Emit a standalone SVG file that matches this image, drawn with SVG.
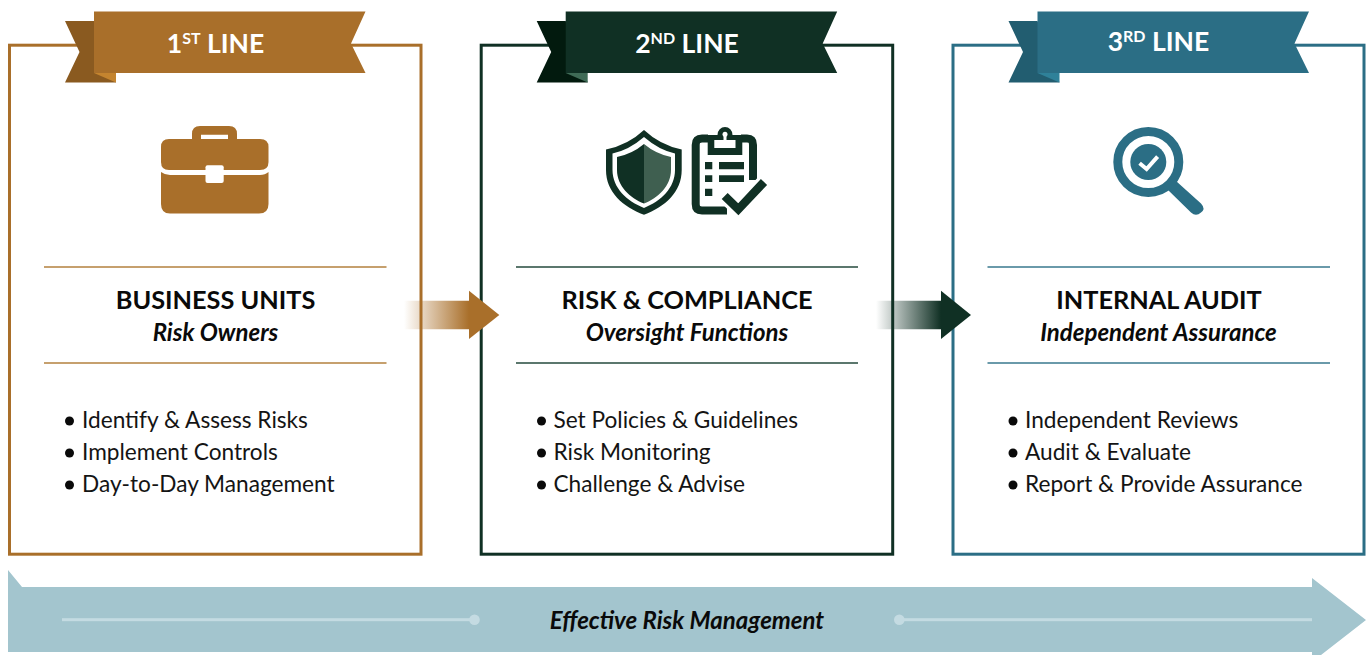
<svg xmlns="http://www.w3.org/2000/svg" width="1370" height="655" viewBox="0 0 1370 655">
<style>
text{font-family:Lato,"Open Sans",sans-serif}
.t{font-size:25.3px;font-weight:700;fill:#0a0a0a;text-anchor:middle}
.s{font-size:24px;font-weight:700;font-style:italic;fill:#0a0a0a;text-anchor:middle}
.b{font-size:22.65px;font-weight:400;fill:#141414}
.r{font-size:26.500px;font-weight:700;fill:#fff;text-anchor:middle}
.sup{font-size:16px}
.box{fill:#fff;stroke-width:3}
.div{stroke-width:2;fill:none}
.dot{fill:#0a0a0a}
</style>
<defs>
<linearGradient id="g1" gradientUnits="userSpaceOnUse" x1="404" x2="469" y1="0" y2="0"><stop offset="0" stop-color="#a96f2a" stop-opacity="0"/><stop offset="1" stop-color="#a96f2a"/></linearGradient>
<linearGradient id="g2" gradientUnits="userSpaceOnUse" x1="876" x2="941" y1="0" y2="0"><stop offset="0" stop-color="#103024" stop-opacity="0"/><stop offset="1" stop-color="#103024"/></linearGradient>
<polygon id="back" points="65,21 94,21 116,82.500 65,82.500 79.500,52"/>
<polygon id="main" points="94,11.500 365.500,11.500 351,43.500 365.500,73 94,73"/>
<polygon id="fold" points="94,73 116,82.500 116,73"/>
</defs>
<g id="band">
<polygon fill="#a3c5ce" points="8,570 22,587 1312,587 1312,578 1366,620 1312,662 1312,652 8,652"/>
<g fill="#c4dbe2"><rect x="62" y="618.200" width="413" height="3"/><circle cx="474.500" cy="619.700" r="5.300"/><rect x="899" y="618.200" width="413" height="3"/><circle cx="899.300" cy="619.700" r="5.300"/></g>
<text x="687" y="629" class="s">Effective Risk Management</text>
</g>
<g id="line1">
<rect class="box" stroke="#a96f2a" x="9.500" y="45.200" width="411.500" height="509"/>
<use href="#back" fill="#8a5a20"/><use href="#main" fill="#a96f2a"/><use href="#fold" fill="#c4842f"/>
<text class="r" x="215.500" y="53">1<tspan class="sup" dy="-9">ST</tspan><tspan dy="9"> LINE</tspan></text>
<g id="icon1" fill="#a96f2a">
<path d="M192 139V134Q192 126 200 126H229Q237 126 237 134V139H228V134.700H201V139Z"/>
<path d="M169 139H260Q268.500 139 268.500 147V162Q268.500 170 260 170H169Q161 170 161 162V147Q161 139 169 139Z"/>
<path d="M161 172Q165 175 170 175H260Q265 175 268.500 172V204Q268.500 213.500 259 213.500H170Q161 213.500 161 204Z"/>
<rect x="205.500" y="165.300" width="18.200" height="17.700" rx="2" fill="#fff"/>
</g>
<path class="div" stroke="#c6a06e" d="M44 267H386.500M44 363H386.500"/>
<text class="t" x="215.500" y="308.500">BUSINESS UNITS</text>
<text class="s" x="215.500" y="340.500">Risk Owners</text>
<circle class="dot" cx="69.500" cy="421" r="4.500"/><circle class="dot" cx="69.500" cy="453" r="4.500"/><circle class="dot" cx="69.500" cy="485" r="4.500"/>
<text class="b" x="82" y="428">Identify &amp; Assess Risks</text>
<text class="b" x="82" y="460">Implement Controls</text>
<text class="b" x="82" y="492">Day-to-Day Management</text>
</g>
<g id="line2">
<rect class="box" stroke="#103024" x="481.200" y="45.200" width="411.500" height="509"/>
<g transform="translate(471.700 0)"><use href="#back" fill="#021a0e"/><use href="#main" fill="#103024"/><use href="#fold" fill="#3f6b56"/></g>
<text class="r" x="687" y="53">2<tspan class="sup" dy="-9">ND</tspan><tspan dy="9"> LINE</tspan></text>
<g id="icon2">
<path fill="#103024" d="M644 130Q660 145 681.700 149.500V170C681.700 192 665 207 644 214.700C623 207 606 192 606 170V149.500Q628 145 644 130Z"/>
<path fill="#fff" d="M644 137Q659 150 675 153.500V170C675 188 661 201 644 208C627 201 612.500 188 612.500 170V153.500Q629 150 644 137Z"/>
<path fill="#103024" d="M644 144V203.500C630 198 617 186 617 170V157Q632 154 644 144Z"/>
<path fill="#3f5f50" d="M644 144Q656 154 671 157V170C671 186 658 198 644 203.500Z"/>
<path fill="none" stroke="#103024" stroke-width="8" d="M708 138.500H702Q695.700 138.500 695.700 145V204Q695.700 210.500 702 210.500H727M741 138.500H747Q753 138.500 753 145V180"/>
<path fill="#103024" d="M707.700 135H717.500A7.500 8 0 0 1 732.500 135H742.300V155H707.700Z"/>
<path fill="#fff" d="M714.300 140H723.500V133.500H726.500V140H735.500V148H714.300Z"/>
<circle cx="725" cy="134.200" r="2.500" fill="#fff"/>
<path fill="#103024" d="M705 162H712.300V169.300H705ZM705 175.300H712.300V182H705ZM705 188.700H712.300V196H705ZM719 162H744V169.300H719ZM719 175.300H744V182H719Z"/>
<path fill="none" stroke="#fff" stroke-width="15" d="M724.700 196L738.300 209.300L764 182"/>
<path fill="none" stroke="#103024" stroke-width="8.500" d="M724.700 196L738.300 209.300L764 182"/>
</g>
<path class="div" stroke="#5b776d" d="M516 267H858M516 363H858"/>
<text class="t" x="687" y="308.500">RISK &amp; COMPLIANCE</text>
<text class="s" x="687" y="340.500">Oversight Functions</text>
<circle class="dot" cx="541.500" cy="421" r="4.500"/><circle class="dot" cx="541.500" cy="453" r="4.500"/><circle class="dot" cx="541.500" cy="485" r="4.500"/>
<text class="b" x="553.500" y="428">Set Policies &amp; Guidelines</text>
<text class="b" x="553.500" y="460">Risk Monitoring</text>
<text class="b" x="553.500" y="492">Challenge &amp; Advise</text>
</g>
<g id="line3">
<rect class="box" stroke="#2b6e85" x="953" y="45.200" width="411" height="509"/>
<g transform="translate(943.500 0)"><use href="#back" fill="#225d70"/><use href="#main" fill="#2b6e85"/><use href="#fold" fill="#2f8199"/></g>
<text class="r" x="1158.500" y="51">3<tspan class="sup" dy="-9">RD</tspan><tspan dy="9"> LINE</tspan></text>
<g id="icon3">
<circle cx="1148.300" cy="162" r="30.500" fill="none" stroke="#2b6e85" stroke-width="9"/>
<circle cx="1148.300" cy="162" r="18" fill="#2b6e85"/>
<path fill="none" stroke="#fff" stroke-width="4" d="M1139.600 163.300L1146.600 169L1157.600 156.700"/>
<path fill="#2b6e85" d="M1176 181L1201 203.500Q1206 209 1201 212.500Q1196 217 1191 212.500L1168 190Z"/>
</g>
<path class="div" stroke="#6a9aaa" d="M987.500 267H1330M987.500 363H1330"/>
<text class="t" x="1159" y="308.500">INTERNAL AUDIT</text>
<text class="s" x="1158.500" y="340.500">Independent Assurance</text>
<circle class="dot" cx="1013" cy="421" r="4.500"/><circle class="dot" cx="1013" cy="453" r="4.500"/><circle class="dot" cx="1013" cy="485" r="4.500"/>
<text class="b" x="1025" y="428">Independent Reviews</text>
<text class="b" x="1025" y="460">Audit &amp; Evaluate</text>
<text class="b" x="1025" y="492">Report &amp; Provide Assurance</text>
</g>
<g id="connectors">
<path fill="url(#g1)" d="M404 300.700H469V329.300H404Z"/><path fill="#a96f2a" d="M469 290.700L499.300 315L469 339Z"/>
<path fill="url(#g2)" d="M876 300.700H941V329.300H876Z"/><path fill="#103024" d="M941 290.700L971 315L941 339Z"/>
</g>
</svg>
